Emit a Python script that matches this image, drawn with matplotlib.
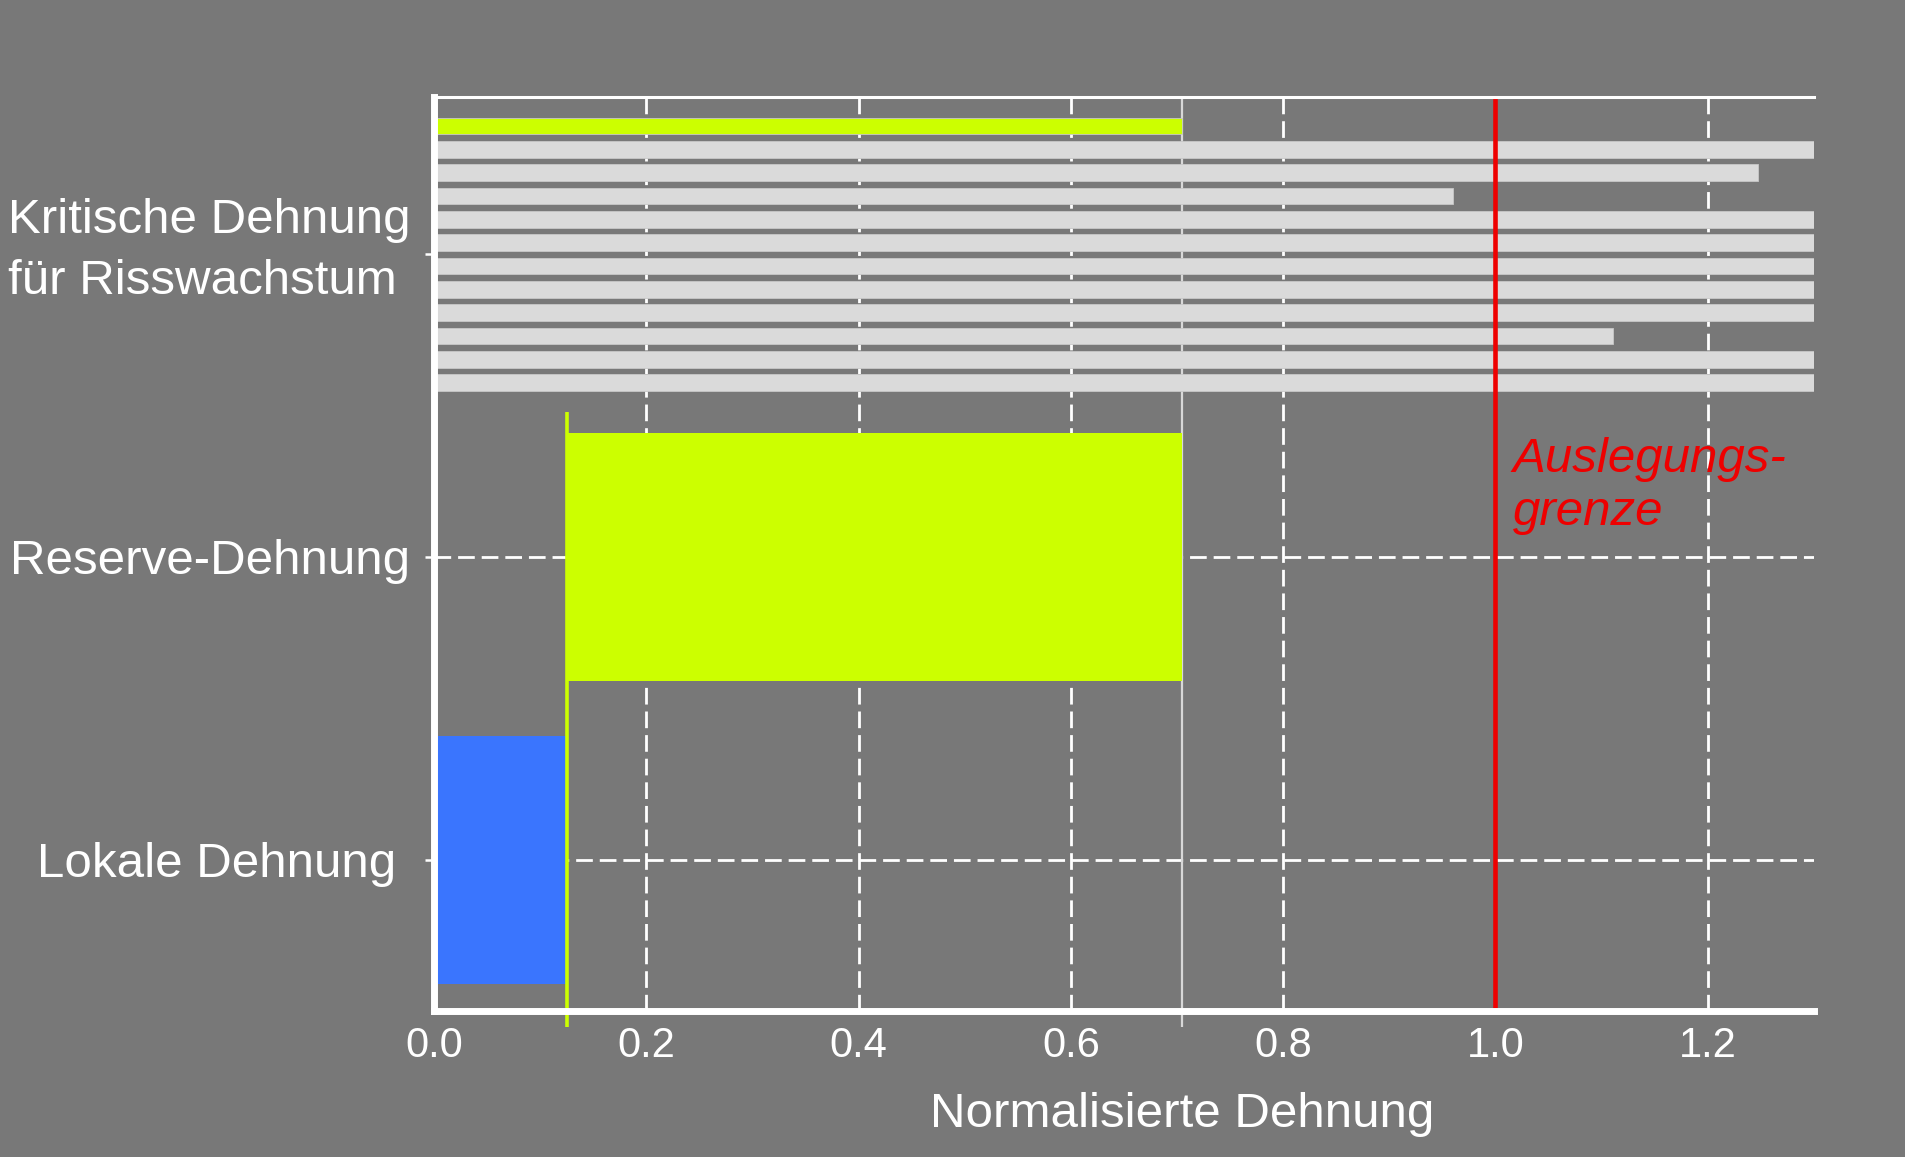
import matplotlib
matplotlib.use("Agg")
import matplotlib.pyplot as plt
import matplotlib.transforms as mtransforms
import numpy as np

plt.rcParams['font.family'] = ['Liberation Sans', 'DejaVu Sans']

# ---- data ----
categories = ["Lokale Dehnung ", "Reserve-Dehnung", "Kritische Dehnung\nfür Risswachstum"]
local_strain = 0.125
reserve_strain_end = 0.705
critical_values = [0.705, 1.40, 1.247, 0.96, 1.40, 1.40, 1.40, 1.40, 1.40, 1.111, 1.40, 1.40]
critical_colors = ["#ccff00"] + ["#dadada"] * 11
design_limit = 1.0
design_label = "Auslegungs-\ngrenze"
x_ticks = [0.0, 0.2, 0.4, 0.6, 0.8, 1.0, 1.2]
x_label = "Normalisierte Dehnung"

BG = "#787878"
fig = plt.figure(figsize=(19.05, 11.57), dpi=100, facecolor=BG)
ax = fig.add_axes([0.2278, 0.1262, 0.7244, 0.79])
ax.set_facecolor(BG)

ypos = np.arange(len(categories))
grid_style = dict(color="white", linestyle=(0, (6, 2.5)), linewidth=2, zorder=0)

# grid (vertical everywhere, horizontal only for the two lower categories)
ax.set_axisbelow(True)
ax.grid(True, axis="x", **grid_style)
for y in ypos[:2]:
    ax.axhline(y, **grid_style)

# local strain
ax.barh(ypos[0], local_strain, height=0.82, color="#3a75fe", zorder=2)
# reserve strain
ax.barh(ypos[1], reserve_strain_end - local_strain, left=local_strain, height=0.82,
        color="#ccff00", zorder=2)

# critical strain bars (grouped around category 2)
n = len(critical_values)
step = 0.0771
offsets = (np.arange(n)[::-1] - (n - 1) / 2) * step
ax.barh(ypos[2] + offsets, critical_values, height=0.056, color=critical_colors,
        edgecolor="#c8c8c8", linewidth=0.6, zorder=2)

# reference lines
ax.plot([local_strain, local_strain], [-0.552, 1.478], color="#ccff00", lw=2.6,
        zorder=3, clip_on=False, solid_capstyle="butt")
ax.plot([reserve_strain_end, reserve_strain_end], [-0.552, 2.52], color="#d8d8d8", lw=1.6,
        zorder=1.5, clip_on=False, solid_capstyle="butt")
ax.axvline(design_limit, color="#ee0000", lw=3.3, zorder=4)
ax.text(design_limit + 0.016, 1.107, design_label, color="#ee0000", fontsize=35.5,
        fontstyle="italic", ha="left", va="baseline", linespacing=1.22, zorder=5)

ax.set_xlim(0, 1.3)
ax.set_ylim(-0.5, 2.52)
ax.set_xticks(x_ticks)
ax.set_xticklabels([f"{v:.1f}" for v in x_ticks])
ax.set_yticks(ypos)
ax.set_yticklabels(categories)

ax.tick_params(axis="x", length=0, pad=10.6, labelsize=30, labelcolor="white")
ax.tick_params(axis="y", length=6.5, width=1.8, color="white", pad=10.5,
               labelsize=35.5, labelcolor="white")

ylabels = ax.get_yticklabels()
multi = ylabels[2]
multi.set_multialignment("left")
multi.set_linespacing(1.47)
multi.set_va("center")
multi.set_transform(multi.get_transform() +
                    mtransforms.ScaledTranslation(0, 2.5 / 72, fig.dpi_scale_trans))

ax.set_xlabel(x_label, fontsize=35.5, color="white")
ax.xaxis.set_label_coords(0.542, -0.089)

for s in ["left", "bottom", "top"]:
    ax.spines[s].set_color("white")
ax.spines["left"].set_linewidth(5)
ax.spines["bottom"].set_linewidth(5)
ax.spines["top"].set_linewidth(2.2)
ax.spines["right"].set_visible(False)
for s in ax.spines.values():
    s.set_zorder(6)

fig.savefig("out.png", dpi=100, facecolor=BG)
